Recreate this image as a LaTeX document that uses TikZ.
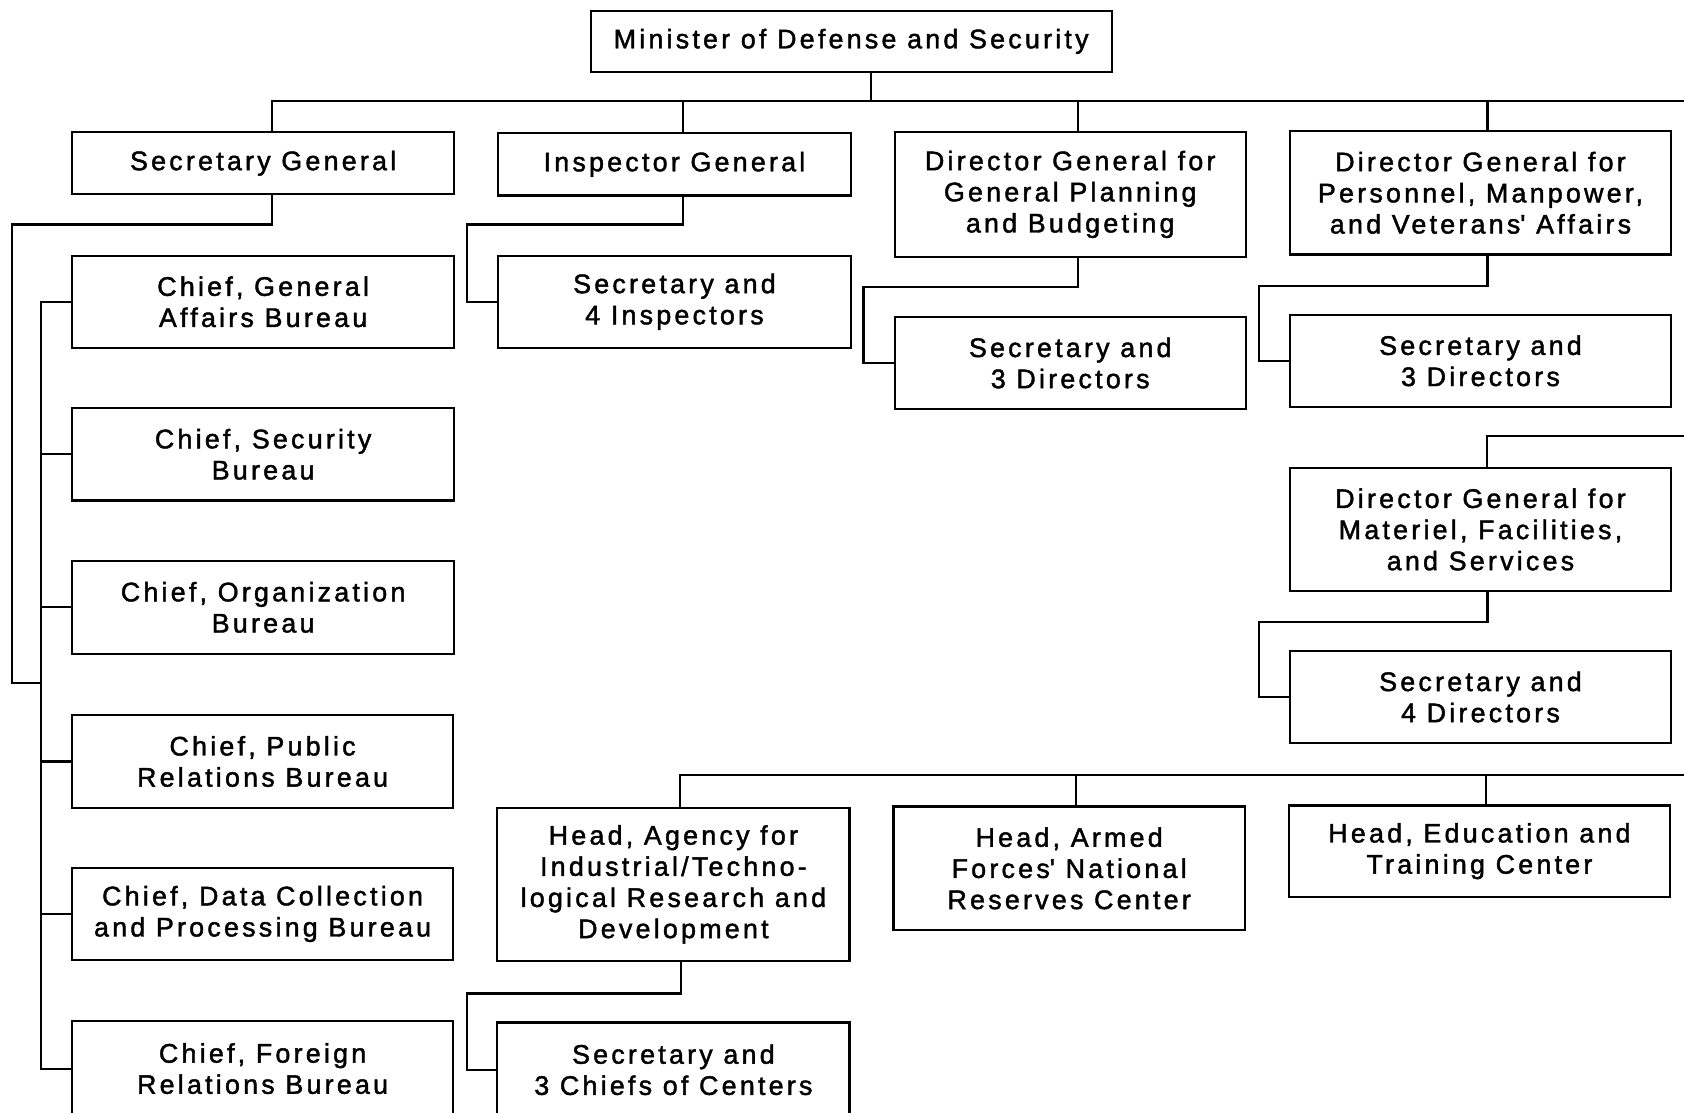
\documentclass[tikz,border=0pt]{standalone}
\usepackage{fontspec}
\setmainfont{Liberation Sans}[LetterSpace=12,FakeBold=1.6]
\begin{document}
\begin{tikzpicture}[x=0.5pt,y=-0.5pt,
  box/.style={draw, line width=1pt, inner sep=0pt, align=center,
    font=\fontsize{12.5}{14.5}\selectfont},
  conn/.style={line width=1pt}]
\useasboundingbox (0,0) rectangle (1568,1036);
% top level
\node[box, minimum width=242.5pt, minimum height=28.5pt] (min) at (792.5,38.5) {Minister of Defense and Security};
\node[box, minimum width=178pt, minimum height=29pt] (sg) at (245,152) {Secretary General};
\node[box, minimum width=164pt, minimum height=29pt] (ig) at (628,153) {Inspector General};
\node[box, minimum width=163.5pt, minimum height=58pt] (dgp) at (996.5,181) {Director General for\\General Planning\\and Budgeting};
\node[box, minimum width=177.5pt, minimum height=57.5pt] (dgper) at (1378.5,179.5) {Director General for\\Personnel, Manpower,\\and Veterans\textquotesingle\ Affairs};
% secretary general bureaus
\node[box, minimum width=178pt, minimum height=43pt] (cga) at (245,281) {Chief, General\\Affairs Bureau};
\node[box, minimum width=178pt, minimum height=43pt] (cs) at (245,423) {Chief, Security\\Bureau};
\node[box, minimum width=178pt, minimum height=43.5pt] (co) at (245,565.5) {Chief, Organization\\Bureau};
\node[box, minimum width=177.5pt, minimum height=43pt] (cpr) at (244.5,709) {Chief, Public\\Relations Bureau};
\node[box, minimum width=177.5pt, minimum height=43pt] (cdc) at (244.5,851) {Chief, Data Collection\\and Processing Bureau};
\node[box, minimum width=177.5pt, minimum height=44pt] (cfr) at (244.5,995) {Chief, Foreign\\Relations Bureau};
% secretaries
\node[box, minimum width=164pt, minimum height=43pt] (s4i) at (628,281) {Secretary and\\4 Inspectors};
\node[box, minimum width=163.5pt, minimum height=43pt] (s3d1) at (996.5,338) {Secretary and\\3 Directors};
\node[box, minimum width=177.5pt, minimum height=43pt] (s3d2) at (1378.5,336) {Secretary and\\3 Directors};
\node[box, minimum width=177.5pt, minimum height=57pt] (dgm) at (1378.5,493) {Director General for\\Materiel, Facilities,\\and Services};
\node[box, minimum width=177.5pt, minimum height=43pt] (s4d) at (1378.5,649) {Secretary and\\4 Directors};
% heads
\node[box, minimum width=164pt, minimum height=71.5pt] (ha) at (627,823.5) {Head, Agency for\\Industrial/Techno-\\logical Research and\\Development};
\node[box, minimum width=163.5pt, minimum height=57.5pt] (haf) at (995.5,808.5) {Head, Armed\\Forces\textquotesingle\ National\\Reserves Center};
\node[box, minimum width=177.5pt, minimum height=42.5pt] (hed) at (1377.5,792.5) {Head, Education and\\Training Center};
\node[box, minimum width=164pt, minimum height=44pt] (s3c) at (627,996) {Secretary and\\3 Chiefs of Centers};
% free ends
\coordinate (busR) at (1575,94);
\coordinate (dgmR) at (1575,406);
\coordinate (bus2R) at (1575,722);
\coordinate (sgj) at (39,636);
% connectors: top bus
\draw[conn] ([xshift=9.25pt]min.south) -- ([xshift=9.25pt]min.south |- busR);
\draw[conn] ([xshift=4pt]sg.north) |- (busR);
\draw[conn] ([xshift=4pt]ig.north) -- ([xshift=4pt]ig.north |- busR);
\draw[conn] ([xshift=3.75pt]dgp.north) -- ([xshift=3.75pt]dgp.north |- busR);
\draw[conn] ([xshift=3.25pt]dgper.north) -- ([xshift=3.25pt]dgper.north |- busR);
% secretary general chain
\draw[conn] ([xshift=4pt]sg.south) -- ++(0,27) -- ++(-242,0) |- (sgj);
\draw[conn] (cga.west) -- ++(-28,0) |- (cfr.west);
\draw[conn] (cs.west) -- ++(-28,0);
\draw[conn] (co.west) -- ++(-28,0);
\draw[conn] (cpr.west) -- ++(-28,0);
\draw[conn] (cdc.west) -- ++(-28,0);
% inspector general
\draw[conn] ([xshift=4pt]ig.south) -- ++(0,26) -| ([xshift=-14pt]s4i.west) -- (s4i.west);
% planning
\draw[conn] ([xshift=3.75pt]dgp.south) -- ++(0,27) -| ([xshift=-14pt]s3d1.west) -- (s3d1.west);
% personnel
\draw[conn] ([xshift=3.25pt]dgper.south) -- ++(0,28) -| ([xshift=-14pt]s3d2.west) -- (s3d2.west);
% materiel
\draw[conn] (dgmR) -| ([xshift=3pt]dgm.north);
\draw[conn] ([xshift=3.25pt]dgm.south) -- ++(0,28) -| ([xshift=-14pt]s4d.west) -- (s4d.west);
% bottom bus
\draw[conn] ([xshift=3.25pt]ha.north) |- (bus2R);
\draw[conn] ([xshift=3.25pt]haf.north) -- ([xshift=3.25pt]haf.north |- bus2R);
\draw[conn] ([xshift=3.25pt]hed.north) -- ([xshift=3.25pt]hed.north |- bus2R);
\draw[conn] ([xshift=3.5pt]ha.south) -- ++(0,29) -| ([xshift=-13.5pt]s3c.west) -- (s3c.west);
\end{tikzpicture}
\end{document}
